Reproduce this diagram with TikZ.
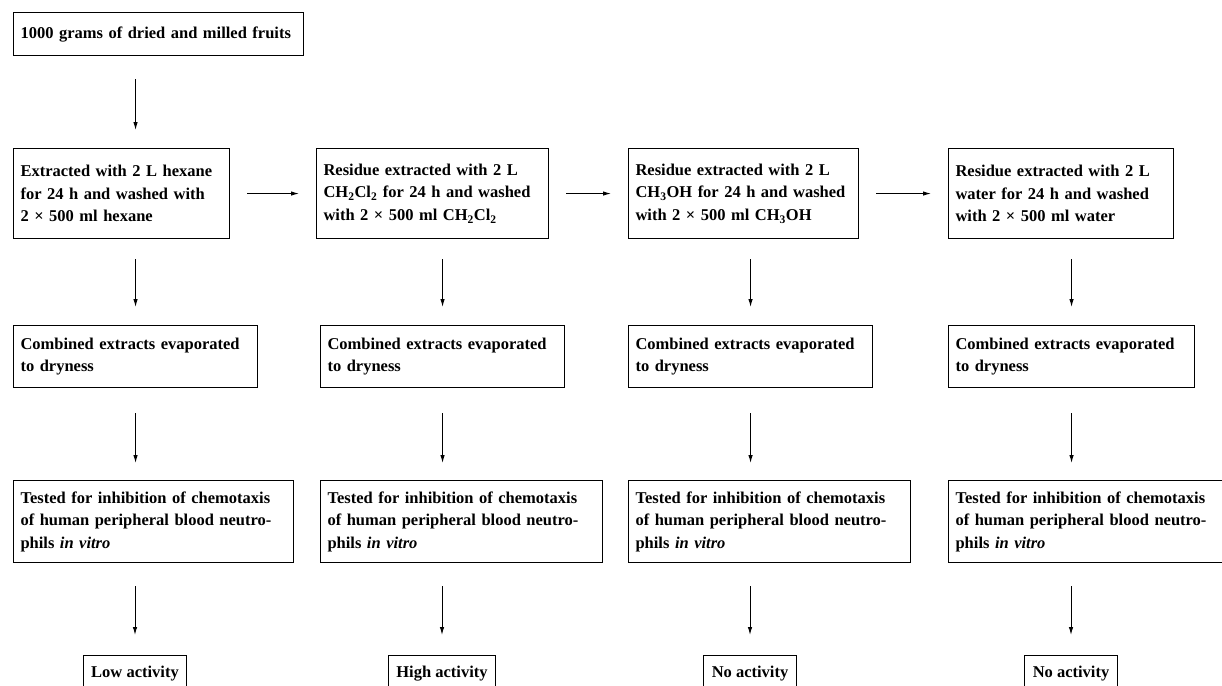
\documentclass[tikz,border=0pt]{standalone}
\usepackage{fontspec}
\setmainfont{Liberation Serif}
\usetikzlibrary{arrows.meta}
\tikzstyle{procbox}=[draw=black,line width=1.1pt,anchor=north west,
                     align=left,inner xsep=7pt,inner ysep=3pt,
                     font=\fontsize{16.5}{22.5}\selectfont\bfseries]
\tikzstyle{resbox}=[draw=black,line width=1.1pt,anchor=north,
                    inner xsep=8pt,minimum height=36pt,
                    font=\fontsize{16.5}{22.5}\selectfont\bfseries]
\tikzstyle{flow}=[line width=1pt,-{Latex[length=8pt,width=4.5pt]}]

\begin{document}
\begin{tikzpicture}[x=1pt,y=-1pt]
    \useasboundingbox (0,0) rectangle (1222,685);
    \clip (0,0) rectangle (1222,685);
    \newcommand{\xh}{\texttimes}
    % starting material
    \node (top) at (13,12) [procbox,text width=276pt,minimum height=43pt]
        {1000 grams of dried and milled fruits};
    % extraction steps
    \node (ext1) at (13,148) [procbox,text width=202pt,minimum height=90pt]
        {Extracted with 2 L hexane\\for 24 h and washed with\\2 \xh{} 500 ml hexane};
    \node (ext2) at (316,148) [procbox,text width=218pt,minimum height=90pt]
        {Residue extracted with 2 L\\CH\textsubscript{2}Cl\textsubscript{2} for 24 h and washed\\with 2 \xh{} 500 ml CH\textsubscript{2}Cl\textsubscript{2}};
    \node (ext3) at (628,148) [procbox,text width=216pt,minimum height=90pt]
        {Residue extracted with 2 L\\CH\textsubscript{3}OH for 24 h and washed\\with 2 \xh{} 500 ml CH\textsubscript{3}OH};
    \node (ext4) at (948,148) [procbox,text width=211pt,minimum height=90pt]
        {Residue extracted with 2 L\\water for 24 h and washed\\with 2 \xh{} 500 ml water};
    % evaporation
    \node (dry1) at (13,325) [procbox,text width=230pt,minimum height=62pt]
        {Combined extracts evaporated\\to dryness};
    \node (dry2) at (320,325) [procbox,text width=230pt,minimum height=62pt]
        {Combined extracts evaporated\\to dryness};
    \node (dry3) at (628,325) [procbox,text width=230pt,minimum height=62pt]
        {Combined extracts evaporated\\to dryness};
    \node (dry4) at (948,325) [procbox,text width=232pt,minimum height=62pt]
        {Combined extracts evaporated\\to dryness};
    % bioassay
    \node (test1) at (13,480) [procbox,text width=266pt,minimum height=82pt]
        {Tested for inhibition of chemotaxis\\of human peripheral blood neutro-\\phils \textit{in vitro}};
    \node (test2) at (320,480) [procbox,text width=268pt,minimum height=82pt]
        {Tested for inhibition of chemotaxis\\of human peripheral blood neutro-\\phils \textit{in vitro}};
    \node (test3) at (628,480) [procbox,text width=268pt,minimum height=82pt]
        {Tested for inhibition of chemotaxis\\of human peripheral blood neutro-\\phils \textit{in vitro}};
    \node (test4) at (948,480) [procbox,text width=276pt,minimum height=82pt]
        {Tested for inhibition of chemotaxis\\of human peripheral blood neutro-\\phils \textit{in vitro}};
    % outcome
    \node (res1) at (135,655) [resbox]{Low activity};
    \node (res2) at (442,655) [resbox]{High activity};
    \node (res3) at (750,655) [resbox]{No activity};
    \node (res4) at (1071,655) [resbox]{No activity};

    \draw[flow,shorten <=23pt,shorten >=18pt] (top.south -| dry1) -- (ext1.north -| dry1);
    \draw[flow,shorten <=17pt,shorten >=17pt] (ext1) -- (ext2);
    \draw[flow,shorten <=17pt,shorten >=17pt] (ext2) -- (ext3);
    \draw[flow,shorten <=17pt,shorten >=17pt] (ext3) -- (ext4);
    \foreach \i in {1,2,3,4} {
        \draw[flow,shorten <=20pt,shorten >=18pt] (ext\i.south -| dry\i) -- (dry\i);
        \draw[flow,shorten <=25pt,shorten >=17pt] (dry\i) -- (dry\i |- test\i.north);
        \draw[flow,shorten <=23pt,shorten >=20pt] (test\i.south -| res\i) -- (res\i);
    }
\end{tikzpicture}
\end{document}
